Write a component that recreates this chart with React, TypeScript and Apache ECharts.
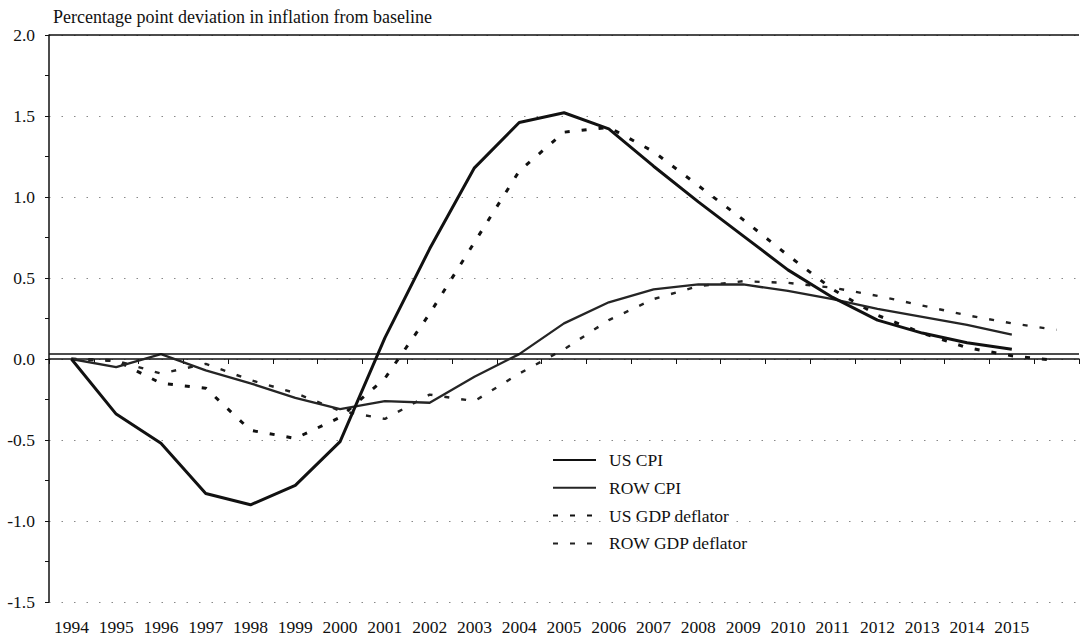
import React, { useEffect, useRef } from "react";
import * as echarts from "echarts";

const years = ["1994","1995","1996","1997","1998","1999","2000","2001","2002","2003","2004","2005","2006","2007","2008","2009","2010","2011","2012","2013","2014","2015","2016"];
const hiddenTickLabels = ["2016"];

const usCpi = [0, -0.34, -0.52, -0.83, -0.9, -0.78, -0.51, 0.13, 0.68, 1.18, 1.46, 1.52, 1.42, 1.19, 0.97, 0.76, 0.55, 0.38, 0.24, 0.16, 0.1, 0.06, null];
const rowCpi = [0, -0.05, 0.03, -0.07, -0.15, -0.24, -0.31, -0.26, -0.27, -0.11, 0.03, 0.22, 0.35, 0.43, 0.46, 0.46, 0.42, 0.37, 0.31, 0.26, 0.21, 0.15, null];
const usGdpDeflator = [0, -0.01, -0.15, -0.18, -0.44, -0.49, -0.36, -0.12, 0.28, 0.72, 1.16, 1.4, 1.43, 1.28, 1.07, 0.86, 0.64, 0.43, 0.27, 0.16, 0.07, 0.02, -0.01];
const rowGdpDeflator = [0, -0.01, -0.09, -0.03, -0.13, -0.21, -0.32, -0.37, -0.22, -0.26, -0.09, 0.06, 0.24, 0.37, 0.45, 0.48, 0.47, 0.44, 0.39, 0.33, 0.27, 0.22, 0.18];

const seriesNames = ["US CPI", "ROW CPI", "US GDP deflator", "ROW GDP deflator"];
const zeroLineValue = 0.03;
const topBorderValue = 2.0;

const FONT = "Liberation Serif";

export default function App() {
  const ref = useRef<HTMLDivElement>(null);

  useEffect(() => {
    if (!ref.current) return;
    const chart = echarts.init(ref.current, undefined, { renderer: "svg" });
    const option = {
      animation: false,
      backgroundColor: "#ffffff",
      textStyle: { fontFamily: FONT, color: "#111" },
      title: {
        text: "Percentage point deviation in inflation from baseline",
        left: 48,
        top: 3,
        textStyle: { fontFamily: FONT, fontSize: 18, fontWeight: "normal", color: "#111" },
      },
      grid: { left: 49, right: 2, top: 35, bottom: 37, containLabel: false },
      legend: {
        orient: "vertical",
        left: 552,
        top: 451,
        padding: 0,
        itemWidth: 43,
        itemHeight: 14,
        itemGap: 9.8,
        data: seriesNames,
        itemStyle: { opacity: 0 },
        textStyle: { fontFamily: FONT, fontSize: 17.5, color: "#111", padding: [0, 0, 0, 8] },
      },
      xAxis: {
        type: "category",
        data: years,
        boundaryGap: true,
        axisLine: { show: true, lineStyle: { color: "#111", width: 1.5 } },
        axisTick: { show: true, length: 5, interval: 0, lineStyle: { color: "#111" } },
        axisLabel: {
          interval: 0,
          margin: 16,
          fontFamily: FONT,
          fontSize: 17.5,
          color: "#111",
          formatter: (v: string) => (hiddenTickLabels.includes(v) ? "" : v),
        },
        splitLine: { show: false },
      },
      yAxis: {
        type: "value",
        min: -1.5,
        max: 2,
        interval: 0.5,
        axisLine: { show: true, lineStyle: { color: "#111", width: 1.5 } },
        axisTick: { show: true, length: 4, lineStyle: { color: "#111" } },
        minorTick: { show: true, splitNumber: 2, length: 4, lineStyle: { color: "#111" } },
        axisLabel: {
          margin: 14,
          fontFamily: FONT,
          fontSize: 17.5,
          color: "#111",
          formatter: (v: number) => v.toFixed(1),
        },
        splitLine: { show: true, lineStyle: { color: "#888", width: 1, type: [1.5, 11] } },
      },
      series: [
        {
          name: seriesNames[0],
          type: "line",
          data: usCpi,
          symbol: "none",
          lineStyle: { color: "#111", width: 3 },
          itemStyle: { color: "#111" },
          markLine: {
            silent: true,
            symbol: "none",
            label: { show: false },
            lineStyle: { color: "#111", width: 1.5, type: "solid" },
            data: [{ yAxis: zeroLineValue }, { yAxis: topBorderValue }],
          },
          z: 5,
        },
        {
          name: seriesNames[1],
          type: "line",
          data: rowCpi,
          symbol: "none",
          lineStyle: { color: "#252525", width: 2.3 },
          itemStyle: { color: "#252525" },
          z: 4,
        },
        {
          name: seriesNames[2],
          type: "line",
          data: usGdpDeflator,
          symbol: "none",
          lineStyle: { color: "#111", width: 3, type: [5, 12] },
          itemStyle: { color: "#111" },
          z: 3,
        },
        {
          name: seriesNames[3],
          type: "line",
          data: rowGdpDeflator,
          symbol: "none",
          lineStyle: { color: "#222", width: 2.4, type: [5, 12] },
          itemStyle: { color: "#222" },
          z: 3,
        },
      ],
    };
    chart.setOption(option as any);
    return () => chart.dispose();
  }, []);

  return (
    <div
      ref={ref}
      style={{ position: "fixed", left: 0, top: 0, width: 1081, height: 639, background: "#fff" }}
    />
  );
}
